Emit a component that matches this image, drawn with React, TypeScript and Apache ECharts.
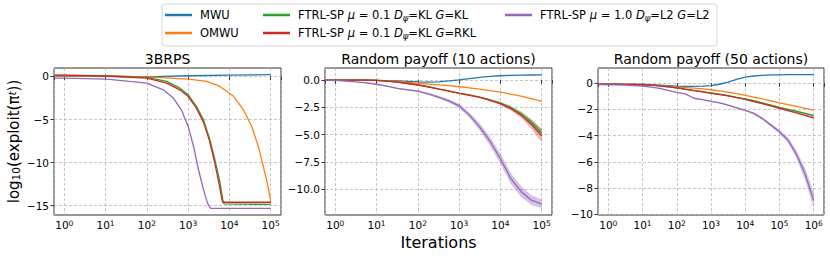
import React, { useEffect, useRef } from 'react';
import * as echarts from 'echarts';

const FONT = 'DejaVu Sans';
const COLORS = ['#1f77b4', '#ff7f0e', '#2ca02c', '#d62728', '#9467bd'];
const BAND_FILLS = ['rgba(31,119,180,0.35)', 'rgba(255,127,14,0.35)', 'rgba(44,160,44,0.35)', 'rgba(214,39,40,0.35)', 'rgba(148,103,189,0.4)'];
const SERIES_NAMES = [
  'MWU',
  'OMWU',
  'FTRL-SP μ = 0.1 Dψ=KL G=KL',
  'FTRL-SP μ = 0.1 Dψ=KL G=RKL',
  'FTRL-SP μ = 1.0 Dψ=L2 G=L2',
];
const LEGEND_RICH = [
  'MWU',
  'OMWU',
  'FTRL-SP {i|μ} = 0.1 {i|D}{sub|ψ}=KL {i|G}=KL',
  'FTRL-SP {i|μ} = 0.1 {i|D}{sub|ψ}=KL {i|G}=RKL',
  'FTRL-SP {i|μ} = 1.0 {i|D}{sub|ψ}=L2 {i|G}=L2',
];
const PANEL_TITLES = ['3BRPS', 'Random payoff (10 actions)', 'Random payoff (50 actions)'];
const Y_TICKS = [
  [-15, -10, -5, 0],
  [-10, -7.5, -5, -2.5, 0],
  [-10, -8, -6, -4, -2, 0],
];
const Y_DECIMALS = [0, 1, 0];

// ---- Panel 1: 3BRPS, [iteration, log10 exploitability]
const rpsMWU: number[][] = [[0.57, 0.05], [10, 0.02], [100, -0.05], [1000, 0.08], [10000, 0.15], [100000, 0.2]];
const rpsOMWU: number[][] = [[0.57, 0.08], [10, 0.05], [100, -0.05], [1000, -0.3], [2818, -0.58], [5888, -1.16], [12589, -2.3], [21878, -3.87], [34674, -5.8], [50119, -8.1], [66069, -10.4], [83176, -12.4], [97724, -14.3], [100000, -14.7]];
const rpsKL: number[][] = [[0.57, 0.12], [1, 0.12], [10, 0.05], [100, -0.11], [302, -0.58], [631, -1.35], [1000, -2.12], [1585, -3.48], [2344, -5.0], [3388, -7.36], [4467, -9.7], [5754, -12.0], [6918, -14.3], [7413, -14.8], [100000, -14.85]];
const rpsRKL: number[][] = [[0.57, 0.15], [1, 0.15], [10, 0.05], [100, -0.19], [302, -0.77], [631, -1.55], [1000, -2.32], [1585, -3.68], [2344, -5.3], [3236, -7.36], [4266, -9.7], [5370, -12.0], [6607, -14.3], [6918, -14.6], [100000, -14.6]];
const rpsL2: number[][] = [[0.57, -0.2], [1, -0.2], [10.7, -0.31], [100, -0.77], [251, -1.55], [437, -2.5], [692, -3.9], [1000, -5.8], [1349, -8.1], [1778, -10.8], [2344, -13.1], [2951, -14.7], [3467, -15.3], [100000, -15.3]];

// ---- Panel 2: random payoff, 10 actions
const rand10Iters = [0.57, 1, 1.78, 3.16, 5.62, 10, 17.8, 31.6, 56.2, 100, 178, 316, 562, 1000, 1778, 3162, 5623, 10000, 17783, 31623, 56234, 100000];
const rand10MWU = [0, 0, 0, 0, 0, -0.01, -0.03, -0.06, -0.1, -0.15, -0.18, -0.15, -0.07, 0.03, 0.15, 0.26, 0.35, 0.41, 0.44, 0.46, 0.48, 0.49];
const rand10OMWU = [0, 0, 0, 0, 0, -0.02, -0.06, -0.12, -0.2, -0.28, -0.35, -0.42, -0.5, -0.6, -0.7, -0.82, -0.95, -1.1, -1.27, -1.45, -1.68, -1.93];
const rand10KL = [0, 0, 0, 0, 0, -0.02, -0.08, -0.18, -0.3, -0.42, -0.6, -0.8, -0.98, -1.18, -1.35, -1.55, -1.8, -2.1, -2.5, -3.05, -3.85, -4.85];
const rand10RKL = [0, 0, 0, 0, 0, -0.02, -0.08, -0.18, -0.3, -0.44, -0.62, -0.82, -1.0, -1.2, -1.38, -1.58, -1.85, -2.15, -2.6, -3.2, -4.05, -5.1];
const rand10L2 = [0, -0.02, -0.08, -0.15, -0.25, -0.37, -0.55, -0.75, -0.88, -1.0, -1.25, -1.55, -1.9, -2.35, -3.2, -4.3, -5.6, -7.2, -9.0, -10.2, -11.0, -11.35];
const rand10KLSpread = [0, 0, 0, 0, 0, 0, 0.01, 0.01, 0.01, 0.02, 0.02, 0.02, 0.03, 0.03, 0.04, 0.05, 0.07, 0.1, 0.15, 0.2, 0.3, 0.4];
const rand10RKLSpread = [0, 0, 0, 0, 0, 0, 0.01, 0.01, 0.01, 0.02, 0.02, 0.02, 0.03, 0.03, 0.04, 0.06, 0.08, 0.12, 0.18, 0.25, 0.4, 0.6];
const rand10L2Spread = [0, 0, 0.01, 0.02, 0.03, 0.04, 0.05, 0.06, 0.07, 0.08, 0.1, 0.12, 0.15, 0.2, 0.25, 0.32, 0.4, 0.45, 0.5, 0.5, 0.45, 0.4];

// ---- Panel 3: random payoff, 50 actions
const rand50Iters = [0.51, 1, 1.78, 3.16, 5.62, 10, 17.8, 31.6, 56.2, 100, 178, 316, 562, 1000, 1778, 3162, 5623, 10000, 17783, 31623, 56234, 100000, 177828, 316228, 562341, 1000000];
const rand50MWU = [-0.08, -0.08, -0.08, -0.09, -0.1, -0.1, -0.12, -0.15, -0.18, -0.22, -0.24, -0.24, -0.22, -0.18, -0.08, 0.08, 0.3, 0.46, 0.55, 0.6, 0.63, 0.64, 0.65, 0.65, 0.66, 0.66];
const rand50OMWU = [-0.08, -0.08, -0.08, -0.09, -0.1, -0.12, -0.15, -0.2, -0.25, -0.3, -0.34, -0.38, -0.43, -0.5, -0.58, -0.68, -0.8, -0.93, -1.06, -1.2, -1.35, -1.5, -1.63, -1.77, -1.92, -2.06];
const rand50KL = [-0.08, -0.08, -0.08, -0.09, -0.1, -0.12, -0.15, -0.2, -0.27, -0.35, -0.45, -0.55, -0.65, -0.74, -0.84, -0.95, -1.08, -1.2, -1.34, -1.5, -1.67, -1.85, -2.0, -2.15, -2.3, -2.47];
const rand50RKL = [-0.08, -0.08, -0.08, -0.09, -0.1, -0.12, -0.15, -0.2, -0.28, -0.36, -0.47, -0.57, -0.67, -0.77, -0.87, -0.97, -1.1, -1.24, -1.4, -1.56, -1.74, -1.93, -2.1, -2.27, -2.45, -2.65];
const rand50L2 = [-0.1, -0.12, -0.13, -0.15, -0.18, -0.22, -0.3, -0.4, -0.55, -0.7, -0.82, -1.15, -1.25, -1.38, -1.5, -1.68, -1.88, -2.08, -2.3, -2.7, -3.2, -3.7, -4.35, -5.45, -6.95, -8.95];
const rand50KLSpread = [0, 0, 0, 0, 0, 0, 0, 0.01, 0.01, 0.01, 0.01, 0.01, 0.02, 0.02, 0.02, 0.02, 0.03, 0.03, 0.03, 0.04, 0.04, 0.05, 0.05, 0.06, 0.07, 0.08];
const rand50RKLSpread = [0, 0, 0, 0, 0, 0, 0, 0.01, 0.01, 0.01, 0.01, 0.01, 0.02, 0.02, 0.02, 0.02, 0.03, 0.03, 0.03, 0.04, 0.04, 0.05, 0.05, 0.06, 0.07, 0.08];
const rand50L2Spread = [0, 0, 0, 0, 0.01, 0.01, 0.01, 0.02, 0.02, 0.02, 0.03, 0.03, 0.03, 0.04, 0.04, 0.05, 0.05, 0.06, 0.08, 0.1, 0.12, 0.15, 0.2, 0.3, 0.45, 0.6];

const pair = (xs: number[], ys: number[]) => xs.map((x, i) => [x, ys[i]]);

function line(k: number, data: number[][], idx: number) {
  return {
    type: 'line',
    name: SERIES_NAMES[k],
    xAxisIndex: idx,
    yAxisIndex: idx,
    data,
    symbol: 'none',
    showSymbol: false,
    lineStyle: { color: COLORS[k], width: 1.3 },
    itemStyle: { color: COLORS[k] },
    z: 3,
  };
}

// Shaded spread band drawn as one polygon through the axes' scales
function band(k: number, xs: number[], ys: number[], spread: number[], idx: number) {
  const data = xs.map((x, i) => [x, ys[i] - spread[i], ys[i] + spread[i]]);
  return {
    type: 'custom',
    name: SERIES_NAMES[k] + ' (spread)',
    xAxisIndex: idx,
    yAxisIndex: idx,
    silent: true,
    z: 2,
    clip: true,
    data,
    encode: { x: 0, y: [1, 2] },
    renderItem: (params: any, api: any) => {
      if (params.dataIndex !== 0) return null;
      const upper = data.map((d) => api.coord([d[0], d[2]]));
      const lower = data.map((d) => api.coord([d[0], d[1]])).reverse();
      return {
        type: 'polygon',
        shape: { points: upper.concat(lower) },
        style: { fill: BAND_FILLS[k], stroke: 'none' },
      };
    },
  };
}

const GRIDS = [
  { left: 54, width: 227 },
  { left: 325, width: 227 },
  { left: 598, width: 226 },
];
const X_RANGES = [
  [Math.pow(10, -0.25), Math.pow(10, 5.25)],
  [Math.pow(10, -0.25), Math.pow(10, 5.25)],
  [Math.pow(10, -0.3), Math.pow(10, 6.3)],
];
const Y_RANGES = [
  [-16.08, 0.98],
  [-12.36, 1.12],
  [-10.06, 1.16],
];

function buildOption() {
  const axisColor = '#333';
  const gridLine = { show: true, lineStyle: { color: '#b8b8b8', type: [3, 2], width: 0.8 } };
  const legendCommon = {
    orient: 'vertical',
    top: 8,
    padding: 0,
    icon: 'rect',
    itemWidth: 27,
    itemHeight: 2.5,
    itemGap: 4,
    selectedMode: false,
    formatter: (n: string) => LEGEND_RICH[SERIES_NAMES.indexOf(n)] ?? n,
    textStyle: {
      fontFamily: FONT, fontSize: 11.5, color: '#000', lineHeight: 14, padding: [0, 0, 0, 3],
      rich: {
        i: { fontFamily: FONT, fontSize: 11.5, fontStyle: 'italic', color: '#000' },
        sub: { fontFamily: FONT, fontSize: 8.5, fontStyle: 'italic', verticalAlign: 'bottom', color: '#000' },
      },
    },
  };

  const series: any[] = [
    // panel 1
    line(0, rpsMWU, 0), line(1, rpsOMWU, 0), line(2, rpsKL, 0), line(3, rpsRKL, 0), line(4, rpsL2, 0),
    // panel 2
    band(2, rand10Iters, rand10KL, rand10KLSpread, 1),
    band(3, rand10Iters, rand10RKL, rand10RKLSpread, 1),
    band(4, rand10Iters, rand10L2, rand10L2Spread, 1),
    line(0, pair(rand10Iters, rand10MWU), 1), line(1, pair(rand10Iters, rand10OMWU), 1),
    line(2, pair(rand10Iters, rand10KL), 1), line(3, pair(rand10Iters, rand10RKL), 1),
    line(4, pair(rand10Iters, rand10L2), 1),
    // panel 3
    band(2, rand50Iters, rand50KL, rand50KLSpread, 2),
    band(3, rand50Iters, rand50RKL, rand50RKLSpread, 2),
    band(4, rand50Iters, rand50L2, rand50L2Spread, 2),
    line(0, pair(rand50Iters, rand50MWU), 2), line(1, pair(rand50Iters, rand50OMWU), 2),
    line(2, pair(rand50Iters, rand50KL), 2), line(3, pair(rand50Iters, rand50RKL), 2),
    line(4, pair(rand50Iters, rand50L2), 2),
  ];

  return {
    animation: false,
    backgroundColor: '#fff',
    textStyle: { fontFamily: FONT },
    legend: [
      { ...legendCommon, left: 165, data: [SERIES_NAMES[0], SERIES_NAMES[1]] },
      { ...legendCommon, left: 263, data: [SERIES_NAMES[2], SERIES_NAMES[3]] },
      { ...legendCommon, left: 505, data: [SERIES_NAMES[4]] },
    ],
    graphic: [
      {
        type: 'rect', z: 0,
        shape: { x: 162, y: 4, width: 555, height: 42, r: 3 },
        style: { fill: '#fff', stroke: '#d4d4d4', lineWidth: 1 },
      },
      ...PANEL_TITLES.map((t, i) => ({
        type: 'text',
        x: GRIDS[i].left + GRIDS[i].width / 2,
        y: 59,
        style: { text: t, font: `14px "${FONT}"`, fill: '#000', textAlign: 'center', textVerticalAlign: 'middle' },
      })),
    ],
    grid: GRIDS.map((g) => ({
      left: g.left, width: g.width, top: 68, height: 147,
      show: true, borderColor: axisColor, borderWidth: 1, backgroundColor: 'transparent',
    })),
    xAxis: [0, 1, 2].map((i) => ({
      type: 'log',
      logBase: 10,
      gridIndex: i,
      min: X_RANGES[i][0],
      max: X_RANGES[i][1],
      axisLine: { show: false },
      axisTick: { show: true, length: 3.5, lineStyle: { color: axisColor } },
      axisLabel: {
        color: '#000', fontFamily: FONT, fontSize: 10.5, margin: 4,
        formatter: (v: number) => {
          const e = Math.log10(v);
          const r = Math.round(e);
          if (Math.abs(e - r) > 1e-6) return '';
          return `10{sup|${r}}`;
        },
        rich: { sup: { fontFamily: FONT, fontSize: 7.5, verticalAlign: 'top', color: '#000' } },
      },
      splitLine: gridLine,
      name: i === 1 ? 'Iterations' : '',
      nameLocation: 'middle',
      nameGap: 18,
      nameTextStyle: { fontFamily: FONT, fontSize: 16, color: '#000' },
    })),
    yAxis: [0, 1, 2].map((i) => ({
      type: 'value',
      gridIndex: i,
      min: Y_RANGES[i][0],
      max: Y_RANGES[i][1],
      axisLine: { show: false },
      axisTick: { show: true, length: 3.5, customValues: Y_TICKS[i], lineStyle: { color: axisColor } },
      axisLabel: {
        customValues: Y_TICKS[i],
        color: '#000', fontFamily: FONT, fontSize: 10.5, margin: 5,
        formatter: (v: number) => (v < 0 ? '−' : '') + Math.abs(v).toFixed(Y_DECIMALS[i]),
      },
      splitLine: gridLine,
      name: i === 0 ? 'log{sub|10}(exploit(π{sup|t}))' : '',
      nameLocation: 'middle',
      nameRotate: 90,
      nameGap: 33,
      nameTextStyle: {
        fontFamily: FONT, fontSize: 15, color: '#000',
        rich: {
          sub: { fontFamily: FONT, fontSize: 10.5, verticalAlign: 'bottom', color: '#000' },
          sup: { fontFamily: FONT, fontSize: 10.5, verticalAlign: 'top', fontStyle: 'italic', color: '#000' },
        },
      },
    })),
    series,
  };
}

export default function App() {
  const ref = useRef<HTMLDivElement>(null);
  useEffect(() => {
    document.body.style.margin = '0';
    const chart = echarts.init(ref.current as HTMLDivElement, null, { renderer: 'svg' });
    chart.setOption(buildOption() as any);
    return () => chart.dispose();
  }, []);
  return <div ref={ref} style={{ width: 830, height: 256 }} />;
}
